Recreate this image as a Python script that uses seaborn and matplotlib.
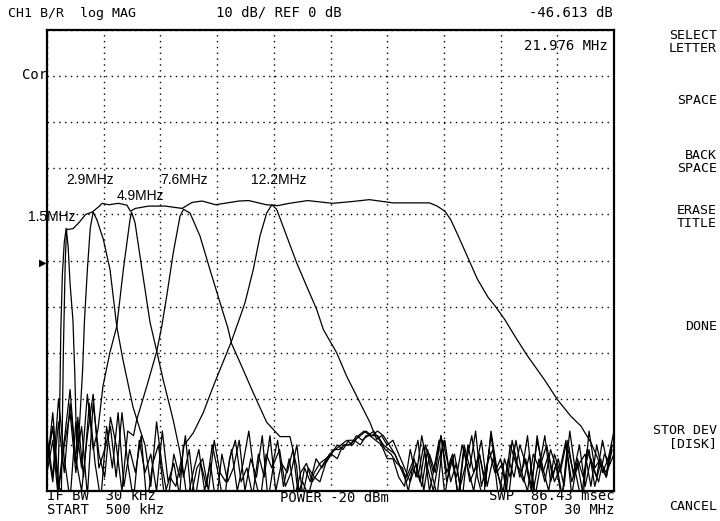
import numpy as np
import pandas as pd
import matplotlib
matplotlib.use("Agg")
import matplotlib.pyplot as plt
import seaborn as sns

# ---------------- data (MHz, dB) ----------------
STEP = 0.3  # sweep step used for the noise-floor readings

# wideband trace
w_f = [1.25, 1.35, 1.45, 1.52, 1.85, 2.16, 2.51, 2.85, 3.20, 3.37, 3.71, 4.23, 4.66, 4.84,
       5.10, 5.79, 6.66, 7.53, 8.05, 8.57, 9.27, 10.49, 11.0, 11.9, 12.5, 13.1, 14.06,
       15.36, 16.4, 17.27, 18.5, 20.4, 20.8, 21.2, 21.5, 21.9, 22.4, 22.9, 23.45, 23.8,
       24.3, 24.9, 25.5, 26.37, 27.06, 27.76, 28.28, 28.8, 29.14, 29.3]
w_db = [-50, -20, 0, 6.7, 6.9, 8.2, 10.0, 10.5, 11.7, 12.4, 12.1, 12.4, 12.0, 10.7,
        11.3, 11.8, 11.8, 11.3, 12.6, 12.9, 12.1, 12.9, 13.0, 12.1, 11.9, 12.4, 13.0,
        12.4, 12.8, 13.2, 12.5, 12.5, 11.8, 10.7, 8.9, 5.3, 0.6, -4.1, -8.0, -9.8,
        -12.7, -16.8, -20.7, -25.8, -30.2, -33.8, -35.9, -39.5, -42.8, -44.6]
w_left = [-43, -36, -49]
w_right = [-47, -40]

# 1.5 MHz band
b1_f = [1.05, 1.15, 1.22, 1.3, 1.4, 1.5, 1.6, 1.7, 1.85, 1.95, 2.05]
b1_db = [-50, -35, -15, -3, 4, 7, 3, -5, -13, -25, -42]
b1_left = [-46, -39]
b1_right = [-34, -47, -31, -44, -52, -36, -45, -33, -49, -41,
            -46, -38, -53, -44, -40, -51, -47,
            -49, -43, -52, -46, -41, -50, -44, -53, -42, -48,
            -45, -39, -50, -43, -47, -38, -52, -44, -41, -49, -46, -40, -51, -45, -47,
            -48, -44, -42, -40, -41, -39, -39, -38, -37, -38, -38, -40, -41, -42, -45, -47,
            -44, -39, -50, -42, -46, -38, -48, -43, -51, -40, -45, -37, -49, -44, -41, -52,
            -43, -47, -39, -46, -50, -42, -45, -38, -48, -44, -51, -41, -46, -40, -49, -43,
            -47, -39, -45, -42]

# 2.9 MHz band
b2_f = [2.05, 2.2, 2.35, 2.45, 2.6, 2.75, 2.9, 3.09, 3.43, 3.78, 4.13, 4.45, 4.97, 5.34]
b2_db = [-44, -35, -24, -13, -2, 7, 10.5, 8.9, 4.6, -2, -14.3, -21.5, -31.7, -36.7]
b2_left = [-44, -36, -50, -40, -33, -46]
b2_right = [-40, -49, -35, -45, -52,
            -42, -47, -38, -51, -45, -43, -50, -39, -46, -48,
            -41, -50, -44, -37, -47, -52, -42, -45, -39, -49, -43, -51, -46, -44, -48,
            -46, -44, -42, -41, -40, -39, -40, -38, -37, -38, -39, -40, -43, -43, -47, -49,
            -41, -47, -38, -45, -50, -43, -39, -48, -44, -52, -40, -46, -42, -49, -37, -45,
            -51, -43, -47, -40, -44, -50, -38, -46, -42, -48, -45, -39, -51, -43, -47, -41,
            -49, -44, -46, -40]

# 4.9 MHz band
b3_f = [3.15, 3.41, 3.77, 4.13, 4.47, 4.82, 4.9, 5.08, 5.34, 5.86, 6.21, 6.54, 7.06, 7.42]
b3_db = [-36.7, -27.3, -20, -14.3, -2, 8.9, 10.5, 8.2, 0.9, -13.4, -19.7, -25.8, -34.5, -41.6]
b3_left = [-38, -47, -30, -43, -52, -35, -45, -29, -41]
b3_right = [-47, -41, -52, -44, -49, -40, -46, -53, -43,
            -39, -48, -45, -51, -42, -47, -38, -50, -44, -46, -41, -52, -45, -48, -43,
            -45, -43, -41, -41, -40, -40, -38, -39, -38, -37, -39, -41, -42, -44, -45, -50,
            -43, -48, -40, -46, -51, -39, -45, -42, -49, -44, -38, -47, -52, -41, -46, -43,
            -50, -39, -45, -48, -42, -51, -44, -40, -47, -43, -49, -37, -46, -52, -41, -45,
            -48, -42, -44]

# 7.6 MHz band
b4_f = [5.0, 5.17, 5.69, 6.21, 6.47, 6.73, 7.07, 7.42, 7.6, 7.94, 8.46, 8.98, 9.5, 9.9,
        10.1, 10.54, 11.22, 11.93, 12.62, 13.14, 13.49, 13.6]
b4_db = [-38, -34.5, -27.3, -19.7, -14.3, -7.7, 1.7, 9.6, 11.1, 10.3, 5.3, -2, -9.1, -14.5,
         -18, -22.1, -28.6, -35.1, -38.2, -38.2, -44.7, -50]
b4_left = [-45, -33, -49, -39, -28, -44, -36, -51, -31, -42, -47, -34, -40, -50, -37]
b4_right = [-48, -51, -46, -44,
            -43, -42, -43, -40, -40, -39, -40, -38, -38, -37, -38, -40, -42, -45, -48, -45,
            -47, -40, -50, -44, -38, -46, -42, -52, -41, -48, -45, -39, -49, -43, -47, -51,
            -40, -44, -46, -38, -50, -43, -48, -41, -45, -52, -39, -47, -44, -42, -49, -40,
            -46, -43, -37]

# 12.2 MHz band
b5_f = [7.59, 8.11, 8.63, 9.15, 10.1, 10.37, 10.8, 11.23, 11.58, 11.93, 12.2, 12.45, 12.97,
        13.49, 14.01, 14.53, 14.88, 15.57, 16.09, 16.61, 17.31, 17.65]
b5_db = [-40.3, -37.4, -33, -27.3, -17.5, -14.3, -9.2, -2, 5.3, 10.3, 12.1, 11.1, 5.3,
         -0.5, -5.6, -10.6, -15, -20, -25.1, -29.4, -35.2, -38.8]
b5_left = [-40, -48, -35, -46, -31, -43, -50, -38, -29, -45, -41, -36, -47, -33, -44, -52,
           -39, -46, -42, -50, -37, -48, -44, -51]
b5_right = [-38, -40, -39, -42, -45, -48,
            -44, -49, -41, -46, -39, -51, -43, -47, -40, -45, -50, -42, -48, -38, -46, -44,
            -52, -41, -47, -43, -49, -39, -45, -50, -42, -46, -40, -48, -44, -51, -37, -45,
            -43, -47, -41]

trace_names = ["wide", "1.5MHz", "2.9MHz", "4.9MHz", "7.6MHz", "12.2MHz"]
trace_data = {
    "wide": (w_left, 0.5, w_f, w_db, w_right, 29.6),
    "1.5MHz": (b1_left, 0.5, b1_f, b1_db, b1_right, 2.1),
    "2.9MHz": (b2_left, 0.5, b2_f, b2_db, b2_right, 5.6),
    "4.9MHz": (b3_left, 0.5, b3_f, b3_db, b3_right, 7.6),
    "7.6MHz": (b4_left, 0.5, b4_f, b4_db, b4_right, 13.8),
    "12.2MHz": (b5_left, 0.5, b5_f, b5_db, b5_right, 17.9),
}

label_text = ["1.5MHz", "2.9MHz", "4.9MHz", "7.6MHz", "12.2MHz"]

rows = []
for name in trace_names:
    left, ls, pf, pdb, right, rs = trace_data[name]
    for i, v in enumerate(left):
        rows.append((name, ls + STEP * i, v))
    for f, v in zip(pf, pdb):
        rows.append((name, f, v))
    for i, v in enumerate(right):
        rows.append((name, rs + STEP * i, v))
df = pd.DataFrame(rows, columns=["trace", "freq", "db"])

# ---------------- figure ----------------
sns.set_theme(style="white")
plt.rcParams['font.family'] = ['DejaVu Sans Mono', 'DejaVu Sans']

W, H = 720, 521
fig = plt.figure(figsize=(W / 100, H / 100), dpi=100)
fig.patch.set_facecolor("white")
ax = fig.add_axes([47 / W, 30 / H, 567 / W, 461 / H])

sns.lineplot(data=df, x="freq", y="db", hue="trace", units="trace", estimator=None,
             palette=["black"] * len(trace_names), linewidth=0.9, legend=False, ax=ax,
             sort=True)

ax.set_xlim(0.5, 30)
ax.set_ylim(-50, 50)
ax.set_xticks(np.linspace(0.5, 30, 11))
ax.set_yticks(np.arange(-50, 51, 10))
ax.grid(True, color="black", linestyle=(0, (1, 3.2)), linewidth=1.0)
ax.tick_params(length=0, labelbottom=False, labelleft=False)
ax.set_xlabel("")
ax.set_ylabel("")
for s in ax.spines.values():
    s.set_color("black")
    s.set_linewidth(1.6)


def ftxt(x, y, s, ha="left", size=10, family=None, va="center"):
    kw = {}
    if family:
        kw["family"] = family
    fig.text(x / W, 1 - y / H, s, ha=ha, va=va, fontsize=size, color="black",
             multialignment=ha, linespacing=1.0, **kw)


# header
ftxt(8, 13, "CH1 B/R  log MAG", size=9.5)
ftxt(216, 13, "10 dB/ REF 0 dB")
ftxt(613, 13, "-46.613 dB", ha="right")
ftxt(608, 46, "21.976 MHz", ha="right")
ftxt(22, 75, "Cor")
ftxt(46, 263, "\u25B6", ha="right", size=7, family=["DejaVu Sans"])

# footer
ftxt(47, 503, "IF BW  30 kHz\nSTART  500 kHz")
ftxt(280, 498, "POWER -20 dBm")
ftxt(615, 503, "SWP  86.43 msec\nSTOP  30 MHz", ha="right")

# softkeys
for y, s in [(42, "SELECT\nLETTER"), (100, "SPACE"), (162, "BACK\nSPACE"),
             (217, "ERASE\nTITLE"), (327, "DONE"), (437, "STOR DEV\n[DISK]"),
             (506, "CANCEL")]:
    ftxt(717, y, s, ha="right", size=9.5)

# band labels
lab_pos = [(28, 217), (66, 180), (117, 196), (160, 180), (251, 180)]
for (x, y), s in zip(lab_pos, label_text):
    ftxt(x, y, s, size=10, family=["Liberation Sans", "DejaVu Sans"])

fig.savefig("out.png", dpi=100, facecolor="white")
